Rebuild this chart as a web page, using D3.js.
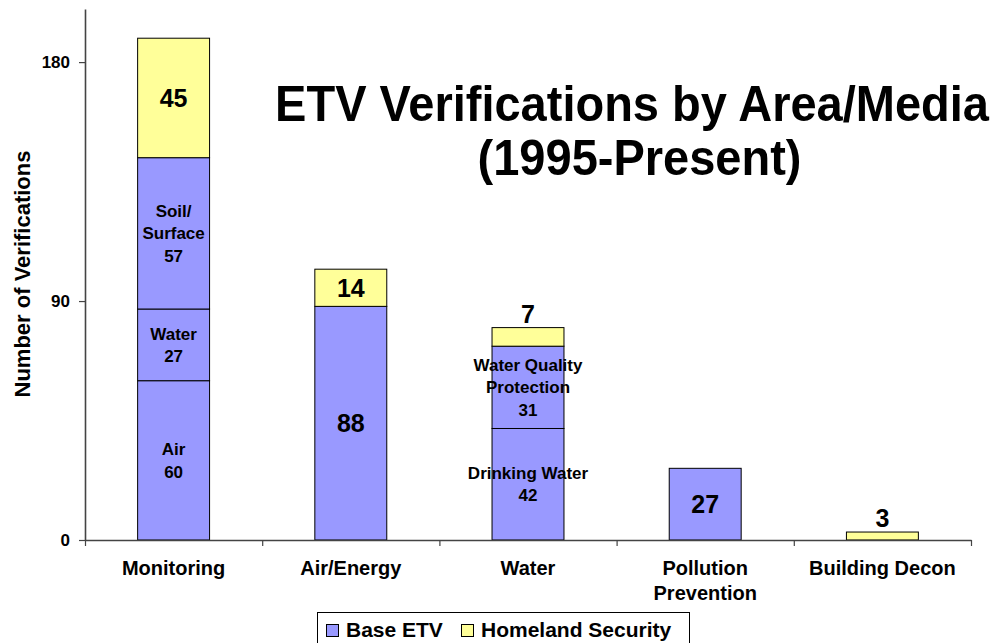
<!DOCTYPE html>
<html>
<head>
<meta charset="utf-8">
<script src="https://cdn.jsdelivr.net/npm/d3@7"></script>
<style>
  body { margin: 0; background: #fff; }
  svg { font-family: "Liberation Sans", Arial, sans-serif; font-weight: bold; }
</style>
</head>
<body>
<svg width="1001" height="643"></svg>
<script>
// data
var categories = ['Monitoring', 'Air/Energy', 'Water', 'Pollution|Prevention', 'Building Decon']
var baseParts = [[60, 27, 57], [88], [42, 31], [27], []]
var baseNames = [['Air', 'Water', 'Soil/|Surface'], [''], ['Drinking Water', 'Water Quality|Protection'], [''], []]
var homeland = [45, 14, 7, 0, 3]
var yTicks = [0, 90, 180]
var seriesNames = ['Base ETV', 'Homeland Security']
var colors = ['#9999FF', '#FFFF99']

var svg = d3.select('svg')
var margin = { top: 9, left: 85, right: 30, bottom: 103 }
var width = 1001
var height = 643

var x = d3.scaleBand()
    .domain(categories)
    .range([margin.left, 971])
    .paddingInner(0.594)
    .paddingOuter(0.297)

var y = d3.scaleLinear()
    .domain([0, 200])
    .range([height - margin.bottom, margin.top])

// build segments
var segs = []
categories.forEach(function(c, i) {
    var acc = 0
    baseParts[i].forEach(function(v, j) {
        segs.push({ cat: c, y0: acc, y1: acc + v, v: v, name: baseNames[i][j], s: 0 })
        acc += v
    })
    if (homeland[i] > 0) {
        segs.push({ cat: c, y0: acc, y1: acc + homeland[i], v: homeland[i], name: '', s: 1 })
    }
})

svg.append('g').selectAll('rect')
    .data(segs)
    .enter()
    .append('rect')
    .attr('x', d => x(d.cat))
    .attr('y', d => y(d.y1))
    .attr('width', x.bandwidth())
    .attr('height', d => y(d.y0) - y(d.y1))
    .attr('fill', d => colors[d.s])
    .attr('stroke', '#000')
    .attr('stroke-width', 1)

// segment labels
segs.forEach(function(d) {
    var cx = x(d.cat) + x.bandwidth() / 2
    var hpx = y(d.y0) - y(d.y1)
    if (d.name) {
        var lines = d.name.split('|').concat([String(d.v)])
        var lh = 22.5
        var cy = (y(d.y0) + y(d.y1)) / 2
        var t = svg.append('text')
            .attr('text-anchor', 'middle')
            .attr('font-size', 17)
        lines.forEach(function(l, k) {
            t.append('tspan')
                .attr('x', cx)
                .attr('y', cy + (k - (lines.length - 1) / 2) * lh + 6)
                .text(l)
        })
    } else if (hpx < 22) {
        // too thin, put the number on top
        svg.append('text')
            .attr('x', cx)
            .attr('y', y(d.y1) - 5)
            .attr('text-anchor', 'middle')
            .attr('font-size', 25)
            .text(d.v)
    } else {
        svg.append('text')
            .attr('x', cx)
            .attr('y', (y(d.y0) + y(d.y1)) / 2 + 9)
            .attr('text-anchor', 'middle')
            .attr('font-size', 25)
            .text(d.v)
    }
})

// axes
var yAxis = d3.axisLeft(y)
    .tickValues(yTicks)
    .tickSize(6)
    .tickSizeOuter(0)
    .tickPadding(9)
var gy = svg.append('g')
    .attr('transform', 'translate(' + margin.left + ',0)')
    .call(yAxis)
gy.select('.domain').attr('stroke', '#444').attr('stroke-width', 1.6)
gy.selectAll('.tick line').attr('stroke', '#444').attr('stroke-width', 1.2)
gy.selectAll('.tick text').attr('font-size', 17).attr('fill', '#000')
    .attr('font-family', '"Liberation Sans", Arial, sans-serif').attr('font-weight', 'bold')

var xb = d3.scaleLinear().domain([0, categories.length]).range([margin.left, 971])
var xAxis = d3.axisBottom(xb)
    .tickValues(d3.range(categories.length + 1))
    .tickFormat('')
    .tickSize(6)
    .tickSizeOuter(0)
var gx = svg.append('g')
    .attr('transform', 'translate(0,' + y(0) + ')')
    .call(xAxis)
gx.select('.domain').attr('stroke', '#444').attr('stroke-width', 1.6)
gx.selectAll('.tick line').attr('stroke', '#444').attr('stroke-width', 1.2)

// category labels
categories.forEach(function(c) {
    var t = svg.append('text')
        .attr('text-anchor', 'middle')
        .attr('font-size', 20)
    c.split('|').forEach(function(l, k) {
        t.append('tspan')
            .attr('x', x(c) + x.bandwidth() / 2)
            .attr('y', 575 + k * 25)
            .text(l)
    })
})

// y title
svg.append('text')
    .attr('transform', 'translate(30,274) rotate(-90)')
    .attr('text-anchor', 'middle')
    .attr('font-size', 22)
    .text('Number of Verifications')

// chart title, squeezed a bit horizontally
var title = svg.append('g')
    .attr('transform', 'translate(632,0) scale(0.94,1)')
    .attr('text-anchor', 'middle')
    .attr('font-size', 50)
title.append('text').attr('x', 0).attr('y', 121).text('ETV Verifications by Area/Media')
title.append('text').attr('x', 8).attr('y', 175).text('(1995-Present)')

// legend
var lg = svg.append('g')
lg.append('rect')
    .attr('x', 317.5).attr('y', 612.5)
    .attr('width', 372).attr('height', 40)
    .attr('fill', '#fff').attr('stroke', '#000')
var lx = [326, 461]
seriesNames.forEach(function(n, i) {
    lg.append('rect')
        .attr('x', lx[i] + 0.5).attr('y', 624.5)
        .attr('width', 12).attr('height', 12)
        .attr('fill', colors[i]).attr('stroke', '#000')
    lg.append('text')
        .attr('x', lx[i] + 20).attr('y', 637)
        .attr('font-size', 21)
        .text(n)
})
</script>
</body>
</html>
